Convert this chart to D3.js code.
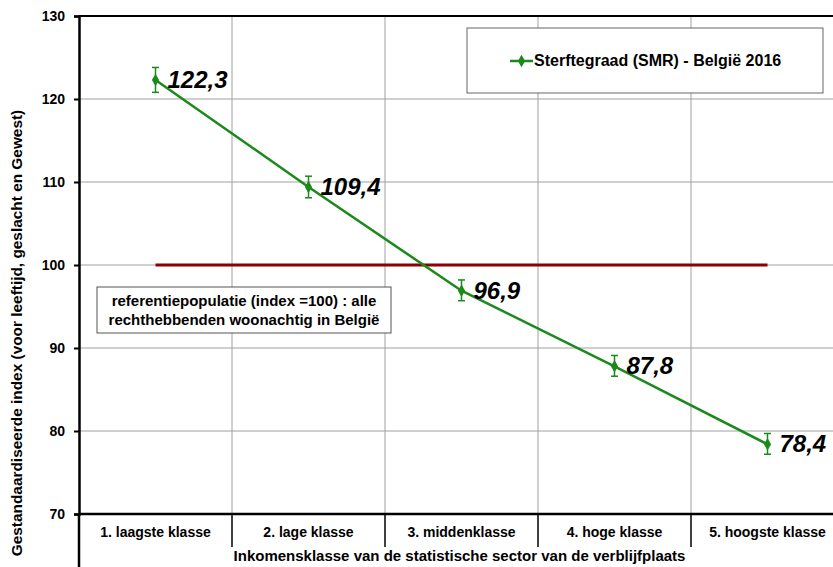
<!DOCTYPE html>
<html>
<head>
<meta charset="utf-8">
<script src="https://cdn.jsdelivr.net/npm/d3@7"></script>
<style>
  body { margin: 0; background: #fff; }
  text { font-family: "Liberation Sans", Arial, sans-serif; }
</style>
</head>
<body>
<div id="chart"></div>
<script>
// data
let categories = ["1. laagste klasse", "2. lage klasse", "3. middenklasse", "4. hoge klasse", "5. hoogste klasse"];
let smr = [122.3, 109.4, 96.9, 87.8, 78.4];
let ciLow = [120.8, 108.1, 95.7, 86.6, 77.2];
let ciHigh = [123.8, 110.7, 98.2, 89.1, 79.7];
let labels = ["122,3", "109,4", "96,9", "87,8", "78,4"];
let yTicks = [70, 80, 90, 100, 110, 120, 130];
let referenceValue = 100;

let margin = { top: 16, left: 79 };
let width = 765, height = 498;

let svg = d3.select("#chart").append("svg")
    .attr("width", 833)
    .attr("height", 567);

let g = svg.append("g")
    .attr("transform", "translate(" + margin.left + "," + margin.top + ")");

let x = d3.scaleBand()
    .domain(categories)
    .range([0, width])
    .padding(0);

let y = d3.scaleLinear()
    .domain([70, 130])
    .range([height, 0]);

let cx = d => x(d) + x.bandwidth() / 2;

// gridlines
g.selectAll(".hgrid")
    .data(yTicks.filter(d => d > 70 && d < 130))
    .enter().append("line")
    .attr("x1", 0).attr("x2", width)
    .attr("y1", d => y(d)).attr("y2", d => y(d))
    .attr("stroke", "#a0a0a0").attr("stroke-width", 1);

g.selectAll(".vgrid")
    .data(categories.slice(1))
    .enter().append("line")
    .attr("x1", d => x(d)).attr("x2", d => x(d))
    .attr("y1", 0).attr("y2", height)
    .attr("stroke", "#a0a0a0").attr("stroke-width", 1);

// top border
g.append("line")
    .attr("x1", 0).attr("x2", width)
    .attr("y1", 0).attr("y2", 0)
    .attr("stroke", "#000").attr("stroke-width", 2);

// y axis
let yAxis = d3.axisLeft(y).tickValues(yTicks).tickSize(5).tickPadding(9);
let yg = g.append("g").call(yAxis);
yg.select(".domain").attr("stroke", "#000").attr("stroke-width", 2.5);
yg.selectAll(".tick line").attr("stroke", "#000").attr("stroke-width", 2);
yg.selectAll(".tick text")
    .style("font-size", "14px").style("font-weight", "bold").attr("fill", "#000");

// x axis with category separators
g.append("line")
    .attr("x1", 0).attr("x2", width)
    .attr("y1", height).attr("y2", height)
    .attr("stroke", "#000").attr("stroke-width", 2.5);

g.append("line")
    .attr("x1", 0).attr("x2", 0)
    .attr("y1", height).attr("y2", height + 55)
    .attr("stroke", "#000").attr("stroke-width", 2.5);

g.selectAll(".sep")
    .data(categories.slice(1))
    .enter().append("line")
    .attr("x1", d => x(d)).attr("x2", d => x(d))
    .attr("y1", height).attr("y2", height + 33)
    .attr("stroke", "#000").attr("stroke-width", 1.5);

g.selectAll(".cat")
    .data(categories)
    .enter().append("text")
    .attr("x", d => cx(d))
    .attr("y", height + 23)
    .attr("text-anchor", "middle")
    .style("font-size", "14px")
    .style("font-weight", "bold")
    .text(d => d);

// axis titles
g.append("text")
    .attr("x", width / 2 - 2)
    .attr("y", height + 47)
    .attr("text-anchor", "middle")
    .style("font-size", "15px")
    .style("font-weight", "bold")
    .text("Inkomensklasse van de statistische sector van de verblijfplaats");

svg.append("text")
    .attr("transform", "translate(22,333) rotate(-90)")
    .attr("text-anchor", "middle")
    .style("font-size", "15.4px")
    .style("font-weight", "bold")
    .text("Gestandaardiseerde index (voor leeftijd, geslacht en Gewest)");

// reference line
g.append("line")
    .attr("x1", cx(categories[0])).attr("x2", cx(categories[4]))
    .attr("y1", y(referenceValue)).attr("y2", y(referenceValue))
    .attr("stroke", "#8b0000").attr("stroke-width", 3);

// reference annotation box
g.append("rect")
    .attr("x", 18).attr("y", 271)
    .attr("width", 294).attr("height", 46)
    .attr("fill", "#fff").attr("stroke", "#555").attr("stroke-width", 1);

g.append("text")
    .attr("x", 165).attr("y", 290)
    .attr("text-anchor", "middle")
    .style("font-size", "15px").style("font-weight", "bold")
    .text("referentiepopulatie (index =100) : alle");
g.append("text")
    .attr("x", 165).attr("y", 309)
    .attr("text-anchor", "middle")
    .style("font-size", "15px").style("font-weight", "bold")
    .text("rechthebbenden woonachtig in België");

// SMR line
let green = "#1a8a1a";
let line = d3.line()
    .x((d, i) => cx(categories[i]))
    .y(d => y(d));

g.append("path")
    .datum(smr)
    .attr("d", line)
    .attr("fill", "none")
    .attr("stroke", green)
    .attr("stroke-width", 2.5);

// error bars
categories.forEach(function(c, i) {
    let px = cx(c);
    g.append("line")
        .attr("x1", px).attr("x2", px)
        .attr("y1", y(ciLow[i])).attr("y2", y(ciHigh[i]))
        .attr("stroke", green).attr("stroke-width", 1.5);
    [ciLow[i], ciHigh[i]].forEach(function(v) {
        g.append("line")
            .attr("x1", px - 3.5).attr("x2", px + 3.5)
            .attr("y1", y(v)).attr("y2", y(v))
            .attr("stroke", green).attr("stroke-width", 1.5);
    });
});

// markers
g.selectAll(".pt")
    .data(smr)
    .enter().append("path")
    .attr("transform", (d, i) => "translate(" + cx(categories[i]) + "," + y(d) + ")")
    .attr("d", d3.symbol().type(d3.symbolDiamond).size(45))
    .attr("fill", green);

// value labels
g.selectAll(".val")
    .data(smr)
    .enter().append("text")
    .attr("x", (d, i) => cx(categories[i]) + 12)
    .attr("y", d => y(d) + 8)
    .style("font-size", "24px")
    .style("font-weight", "bold")
    .style("font-style", "italic")
    .text((d, i) => labels[i]);

// legend
let legend = svg.append("g").attr("transform", "translate(467,28)");
legend.append("rect")
    .attr("width", 356).attr("height", 65)
    .attr("fill", "#fff").attr("stroke", "#666").attr("stroke-width", 1);
legend.append("line")
    .attr("x1", 43).attr("x2", 66)
    .attr("y1", 33).attr("y2", 33)
    .attr("stroke", green).attr("stroke-width", 2.5);
legend.append("path")
    .attr("transform", "translate(54.5,33)")
    .attr("d", d3.symbol().type(d3.symbolDiamond).size(45))
    .attr("fill", green);
legend.append("text")
    .attr("x", 67).attr("y", 38)
    .style("font-size", "16px").style("font-weight", "bold")
    .text("Sterftegraad (SMR) - België 2016");
</script>
</body>
</html>
